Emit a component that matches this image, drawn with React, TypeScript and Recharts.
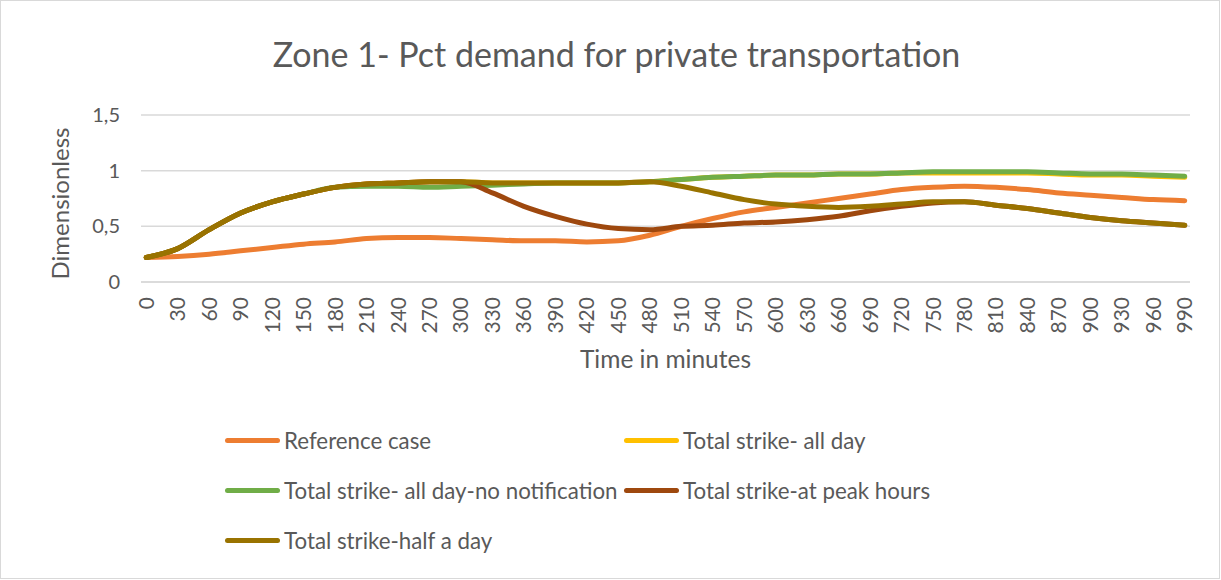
import React from "react";
import { LineChart, Line, XAxis, YAxis, CartesianGrid, Label } from "recharts";

// minutes, sampled every 30
const minutes = [
  0, 30, 60, 90, 120, 150, 180, 210, 240, 270, 300, 330, 360, 390, 420, 450, 480,
  510, 540, 570, 600, 630, 660, 690, 720, 750, 780, 810, 840, 870, 900, 930, 960, 990,
];

const referenceCase = [
  0.22, 0.23, 0.25, 0.28, 0.31, 0.34, 0.36, 0.39, 0.4, 0.4, 0.39, 0.38, 0.37, 0.37, 0.36, 0.37, 0.42,
  0.5, 0.57, 0.63, 0.67, 0.71, 0.75, 0.79, 0.83, 0.85, 0.86, 0.85, 0.83, 0.8, 0.78, 0.76, 0.74, 0.73,
];
const strikeAllDay = [
  0.22, 0.3, 0.47, 0.62, 0.72, 0.79, 0.85, 0.88, 0.89, 0.9, 0.9, 0.89, 0.89, 0.89, 0.89, 0.89, 0.9,
  0.92, 0.94, 0.95, 0.96, 0.96, 0.97, 0.97, 0.98, 0.98, 0.98, 0.98, 0.98, 0.97, 0.96, 0.96, 0.95, 0.94,
];
const strikeNoNotification = [
  0.22, 0.3, 0.47, 0.62, 0.72, 0.79, 0.85, 0.86, 0.86, 0.85, 0.86, 0.87, 0.88, 0.89, 0.89, 0.89, 0.9,
  0.92, 0.94, 0.95, 0.96, 0.96, 0.97, 0.97, 0.98, 0.99, 0.99, 0.99, 0.99, 0.98, 0.97, 0.97, 0.96, 0.95,
];
const strikePeakHours = [
  0.22, 0.3, 0.47, 0.62, 0.72, 0.79, 0.85, 0.88, 0.89, 0.9, 0.9, 0.8, 0.68, 0.59, 0.52, 0.48, 0.47,
  0.5, 0.51, 0.53, 0.54, 0.56, 0.59, 0.64, 0.68, 0.71, 0.72, 0.69, 0.66, 0.62, 0.58, 0.55, 0.53, 0.51,
];
const strikeHalfDay = [
  0.22, 0.3, 0.47, 0.62, 0.72, 0.79, 0.85, 0.88, 0.89, 0.9, 0.9, 0.89, 0.89, 0.89, 0.89, 0.89, 0.9,
  0.86, 0.8, 0.74, 0.7, 0.68, 0.67, 0.68, 0.7, 0.72, 0.72, 0.69, 0.66, 0.62, 0.58, 0.55, 0.53, 0.51,
];

const yTicks = [0, 0.5, 1, 1.5];

const SERIES = [
  { key: "ref", name: "Reference case", color: "#ED7D31", values: referenceCase },
  { key: "allDay", name: "Total strike- all day", color: "#FFC000", values: strikeAllDay },
  { key: "noNotif", name: "Total strike- all day-no notification", color: "#70AD47", values: strikeNoNotification },
  { key: "peak", name: "Total strike-at peak hours", color: "#9E480E", values: strikePeakHours },
  { key: "half", name: "Total strike-half a day", color: "#997300", values: strikeHalfDay },
];

const data = minutes.map((m, i) => {
  const row: Record<string, number> = { minute: m };
  SERIES.forEach((s) => (row[s.key] = s.values[i]));
  return row;
});

const FONT = "Lato, 'Open Sans', sans-serif";
const TEXT = "#595959";

const XTick = ({ x, y, payload }: any) => (
  <text
    x={x}
    y={y}
    transform={`rotate(-90, ${x}, ${y})`}
    textAnchor="end"
    dy="0.36em"
    fill={TEXT}
    fontSize={21}
    fontFamily={FONT}
  >
    {payload.value}
  </text>
);

export default function App() {
  return (
    <div style={{ position: "absolute", left: 0, top: 0, width: 1221, height: 580, background: "#fff", fontFamily: FONT }}>
      <div style={{ position: "absolute", left: 0, top: 0, width: 1218, height: 577, border: "1px solid #d9d9d9" }} />
      <div
        style={{
          position: "absolute",
          left: 0,
          width: 1233,
          top: 33,
          textAlign: "center",
          fontSize: 34,
          color: TEXT,
          lineHeight: "42px",
        }}
      >
        Zone 1- Pct demand for private transportation
      </div>
      <LineChart
        width={1221}
        height={580}
        data={data}
        margin={{ top: 115, right: 31, left: 0, bottom: 208 }}
        style={{ position: "absolute", left: 0, top: 0 }}
      >
        <CartesianGrid vertical={false} stroke="#d9d9d9" strokeWidth={1.5} />
        <XAxis
          dataKey="minute"
          type="number"
          domain={[-5, 995]}
          ticks={minutes}
          interval={0}
          tick={<XTick />}
          tickLine={false}
          tickMargin={9}
          axisLine={{ stroke: "#d9d9d9", strokeWidth: 1.5 }}
          height={90}
        >
          <Label value="Time in minutes" position="insideBottom" offset={4} fill={TEXT} fontSize={24.5} fontFamily={FONT} />
        </XAxis>
        <YAxis
          domain={[0, 1.5]}
          ticks={yTicks}
          width={141}
          tickLine={false}
          axisLine={false}
          tickMargin={15}
          tickFormatter={(v: number) => String(v).replace(".", ",")}
          tick={{ fill: TEXT, fontSize: 20, fontFamily: FONT }}
        >
          <Label
            value="Dimensionless"
            angle={-90}
            position="insideLeft"
            offset={60}
            dy={5}
            fill={TEXT}
            fontSize={24}
            fontFamily={FONT}
            style={{ textAnchor: "middle" }}
          />
        </YAxis>
        {SERIES.map((s) => (
          <Line
            key={s.key}
            type="monotone"
            dataKey={s.key}
            name={s.name}
            stroke={s.color}
            strokeWidth={5}
            strokeLinecap="round"
            dot={false}
            isAnimationActive={false}
          />
        ))}
      </LineChart>
      {SERIES.map((s, i) => (
        <div
          key={s.key}
          style={{
            position: "absolute",
            left: i % 2 === 0 ? 225 : 624,
            top: 440 + Math.floor(i / 2) * 50 - 15,
            height: 30,
            display: "flex",
            alignItems: "center",
            fontSize: 22.3,
            color: TEXT,
            whiteSpace: "nowrap",
          }}
        >
          <span style={{ display: "inline-block", width: 55, height: 5, borderRadius: 3, background: s.color, marginRight: 4 }} />
          {s.name}
        </div>
      ))}
    </div>
  );
}
